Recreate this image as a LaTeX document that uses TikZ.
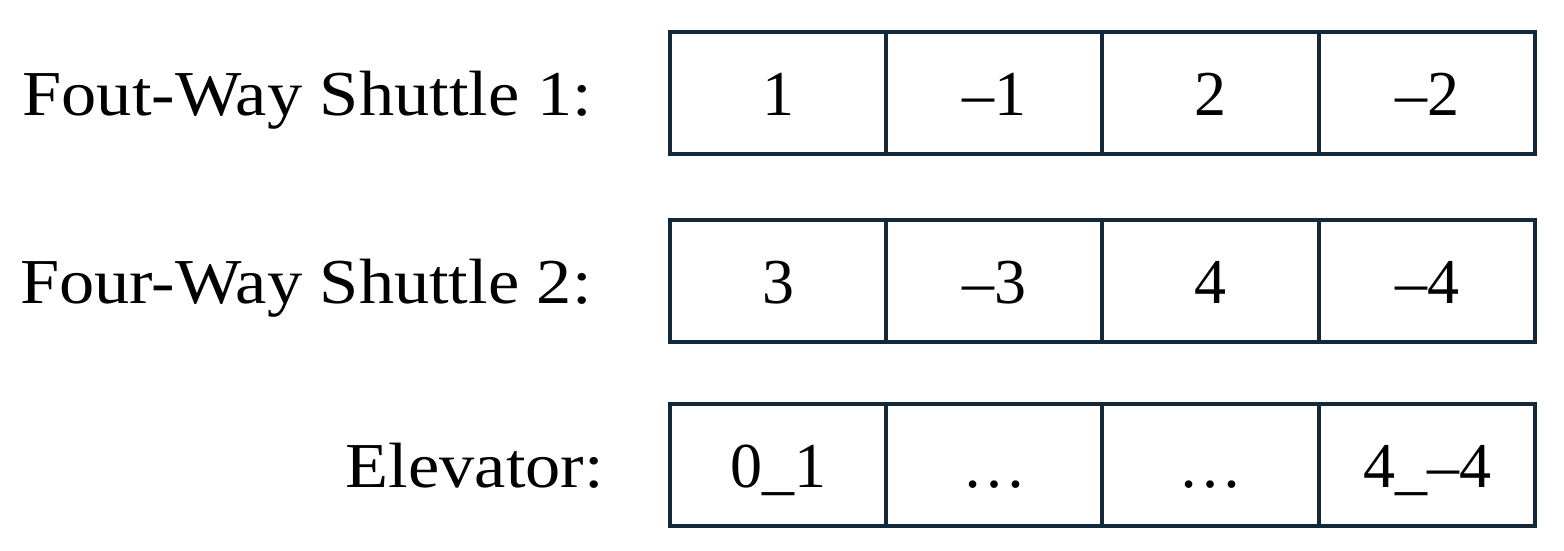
\documentclass[tikz,border=0pt]{standalone}
\usepackage{fontspec}
\setmainfont{Liberation Serif}
\definecolor{bc}{HTML}{13293A}
\begin{document}
\begin{tikzpicture}[x=1pt,y=-1pt,
  cell/.style={draw=bc,line width=3.5pt,minimum width=216pt,minimum height=122pt,inner sep=0pt,text height=46pt,text depth=2pt,font=\fontsize{64}{70}\selectfont},
  lab/.style={anchor=east,inner sep=0pt,xscale=1.1,text height=46pt,text depth=2pt,font=\fontsize{64}{70}\selectfont}]
\useasboundingbox (0,0) rectangle (1564,551);
\foreach \r/\y/\a/\b/\c/\d in {1/93/1/–1/2/–2, 2/281/3/–3/4/–4, 3/465/0\_1/…/…/4\_–4}{
  \node[cell] (c\r a) at (778,\y) {\a};
  \node[cell] (c\r b) at (994,\y) {\b};
  \node[cell] (c\r c) at (1210.5,\y) {\c};
  \node[cell] (c\r d) at (1427,\y) {\d};
}
\node[lab] (l1) at (592,93) {Fout-Way Shuttle 1:};
\node[lab] (l2) at (592,281) {Four-Way Shuttle 2:};
\node[lab] (l3) at (604,465) {Elevator:};
\end{tikzpicture}
\end{document}
